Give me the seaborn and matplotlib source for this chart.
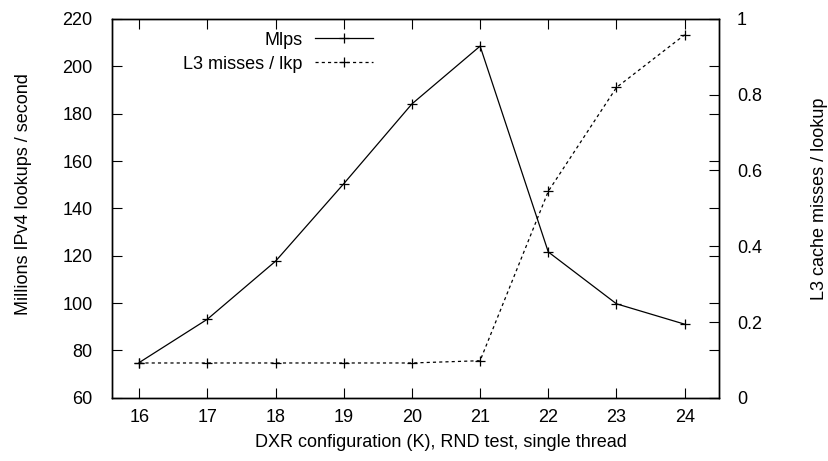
import matplotlib
matplotlib.use("Agg")
import matplotlib.pyplot as plt
import seaborn as sns
import pandas as pd

k_values = [16, 17, 18, 19, 20, 21, 22, 23, 24]
mlps = [74.9, 93.2, 117.7, 150.4, 184.1, 208.5, 121.6, 99.7, 91.1]
l3_misses = [0.092, 0.092, 0.092, 0.092, 0.092, 0.098, 0.545, 0.819, 0.958]

df = pd.DataFrame({"K": k_values, "Mlps": mlps, "L3": l3_misses})

plt.rcParams["font.family"] = ["Liberation Sans", "DejaVu Sans"]
plt.rcParams["font.size"] = 13

fig = plt.figure(figsize=(8.29, 4.61), dpi=100)
ax = fig.add_axes([0.135, 0.137, 0.732, 0.822])
ax2 = ax.twinx()

sns.lineplot(data=df, x="K", y="Mlps", ax=ax, color="black", linewidth=0.9,
             marker="+", markersize=7, markeredgewidth=0.9, markeredgecolor="black",
             label="Mlps", legend=False)
sns.lineplot(data=df, x="K", y="L3", ax=ax2, color="black", linewidth=0.9,
             marker="+", markersize=7, markeredgewidth=0.9, markeredgecolor="black",
             label="L3 misses / lkp", legend=False)
ax2.lines[0].set_dashes([2.5, 2.5])

ax.set_xlim(15.6, 24.5)
ax.set_ylim(60, 220)
ax2.set_ylim(0, 1)
ax.set_xticks(k_values)
ax.set_yticks(range(60, 221, 20))
ax2.set_yticks([0, 0.2, 0.4, 0.6, 0.8, 1])
ax2.set_yticklabels(["0", "0.2", "0.4", "0.6", "0.8", "1"])

ax.tick_params(axis="x", direction="in", top=True, length=7, width=0.8, pad=8)
ax.tick_params(axis="y", direction="in", right=True, length=7, width=0.8, pad=14)
ax2.tick_params(direction="in", length=7, width=0.8, pad=13)

ax.set_xlabel("DXR configuration (K), RND test, single thread", labelpad=6)
ax.set_ylabel("Millions IPv4 lookups / second", labelpad=22)
ax2.set_ylabel("L3 cache misses / lookup", labelpad=35)
ax.xaxis.label.set_x(0.542)
ax.yaxis.label.set_y(0.537)
ax2.yaxis.label.set_y(0.525)

for sp in ax.spines.values():
    sp.set_linewidth(1.0)
for sp in ax2.spines.values():
    sp.set_linewidth(1.0)

handles = ax.lines[:1] + ax2.lines[:1]
labels = ["Mlps", "L3 misses / lkp"]
leg = ax.legend(handles, labels, loc="upper right", bbox_to_anchor=(0.451, 1.0),
                frameon=False, markerfirst=False, handlelength=3.2,
                borderaxespad=0.3, labelspacing=0.4, handletextpad=0.7)
leg._legend_box.align = "right"

fig.savefig("out.png", dpi=100)
